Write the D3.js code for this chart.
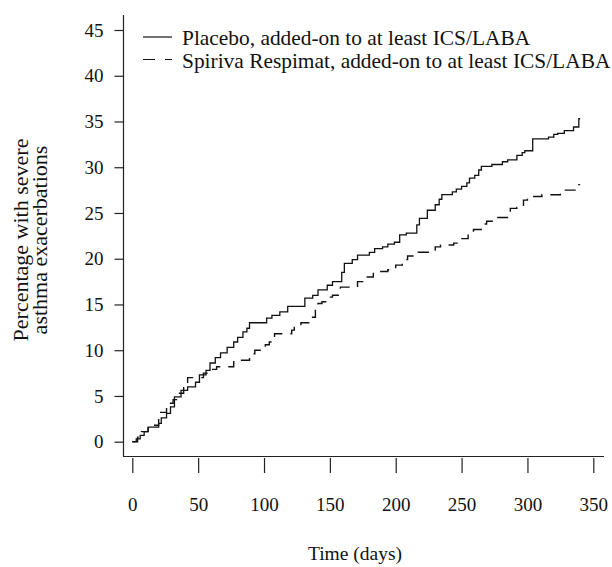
<!DOCTYPE html>
<html>
<head>
<meta charset="utf-8">
<script src="https://cdn.jsdelivr.net/npm/d3@7"></script>
<style>
  body { margin: 0; background: #fff; }
</style>
</head>
<body>
<div id="wrapper"></div>
<script>
// Kaplan-Meier style step curves
const placeboDays = [0, 3, 6, 9, 12, 20, 22, 26, 29, 32, 37, 42, 48, 51, 56, 59, 63, 67, 72, 77,
  80, 84, 87, 89, 102, 106, 112, 118, 131, 137, 141, 148, 152, 159, 161, 167, 171, 180, 184, 190,
  194, 199, 203, 208, 216, 218, 224, 230, 233, 235, 243, 246, 250, 254, 256, 260, 263, 265, 273, 281,
  285, 292, 296, 298, 304, 316, 320, 323, 328, 335, 339, 340]
const placeboPct = [0, 0.3, 0.7, 1.1, 1.6, 2.0, 2.6, 3.1, 3.8, 4.9, 5.6, 6.0, 6.5, 7.3, 7.8, 8.6, 9.2, 9.7, 10.3, 10.9,
  11.4, 12.0, 12.4, 13.0, 13.5, 13.8, 14.2, 14.8, 15.7, 16.0, 16.6, 17.1, 17.5, 18.5, 19.5, 19.9, 20.4, 20.7, 21.1, 21.3,
  21.6, 21.8, 22.6, 22.8, 23.7, 24.4, 25.3, 25.9, 26.5, 27.0, 27.3, 27.6, 27.9, 28.3, 28.8, 29.1, 29.7, 30.1, 30.3, 30.6,
  30.8, 31.3, 31.6, 31.8, 33.1, 33.3, 33.6, 33.7, 34.0, 34.4, 35.3, 35.3]

const spirivaDays = [0, 4, 7, 12, 17, 20, 26, 31, 35, 39, 42, 54, 59, 64, 77, 89, 93, 101, 104, 108,
  121, 123, 128, 134, 139, 141, 144, 148, 152, 158, 171, 175, 183, 187, 194, 200, 205, 209, 217, 230,
  234, 244, 248, 255, 259, 265, 269, 276, 287, 292, 297, 300, 311, 325, 337, 340]
const spirivaPct = [0, 0.5, 1.1, 1.6, 1.8, 3.2, 4.2, 4.6, 5.3, 6.2, 7.0, 7.5, 7.9, 8.2, 8.9, 9.6, 10.0, 10.6, 10.9, 11.8,
  12.2, 12.6, 13.0, 13.6, 14.7, 15.1, 15.3, 15.8, 16.0, 16.9, 17.5, 18.0, 18.5, 18.6, 18.8, 19.3, 19.9, 20.3, 20.7, 21.3,
  21.5, 21.7, 22.2, 22.7, 23.2, 23.8, 24.1, 24.5, 25.5, 25.6, 26.4, 26.8, 27.0, 27.5, 28.1, 28.1]

const xTicks = [0, 50, 100, 150, 200, 250, 300, 350]
const yTicks = [0, 5, 10, 15, 20, 25, 30, 35, 40, 45]
const legendLabels = [
  "Placebo, added-on to at least ICS/LABA",
  "Spiriva Respimat, added-on to at least ICS/LABA"
]

const font = "'Liberation Serif', 'Times New Roman', serif"

const width = 612
const height = 567

const svg = d3.select("#wrapper")
  .append("svg")
  .attr("width", width)
  .attr("height", height)
  .style("font-family", font)

const xScale = d3.scaleLinear()
  .domain([0, 350])
  .range([132.3, 593.3])

const yScale = d3.scaleLinear()
  .domain([0, 45])
  .range([441.7, 30])

// axis frame (L shape)
svg.append("line")
  .attr("x1", 123.5).attr("x2", 123.5)
  .attr("y1", 15).attr("y2", 456.5)
  .attr("stroke", "#222").attr("stroke-width", 1.2)
svg.append("line")
  .attr("x1", 123).attr("x2", 604)
  .attr("y1", 456.5).attr("y2", 456.5)
  .attr("stroke", "#222").attr("stroke-width", 1.2)

const yAxis = svg.append("g")
  .attr("transform", "translate(123.5,0)")
  .call(d3.axisLeft(yScale).tickValues(yTicks).tickSize(9).tickPadding(11))
yAxis.select(".domain").remove()
yAxis.selectAll(".tick line").attr("stroke", "#222").attr("stroke-width", 1.2)
yAxis.selectAll(".tick text")
  .style("font-family", font)
  .style("font-size", "19px")
  .attr("fill", "#111")

const xAxis = svg.append("g")
  .attr("transform", "translate(0,458)")
  .call(d3.axisBottom(xScale).tickValues(xTicks).tickSize(15).tickPadding(25))
xAxis.select(".domain").remove()
xAxis.selectAll(".tick line").attr("stroke", "#222").attr("stroke-width", 1.2)
xAxis.selectAll(".tick text")
  .style("font-family", font)
  .style("font-size", "19px")
  .attr("fill", "#111")

svg.append("text")
  .attr("x", 355)
  .attr("y", 560)
  .attr("text-anchor", "middle")
  .style("font-size", "19.5px")
  .attr("fill", "#111")
  .text("Time (days)")

const yTitle = svg.append("text")
  .attr("transform", "translate(0,240) rotate(-90)")
  .attr("text-anchor", "middle")
  .style("font-size", "22px")
  .attr("fill", "#111")
yTitle.append("tspan").attr("x", 0).attr("y", 28).text("Percentage with severe")
yTitle.append("tspan").attr("x", 0).attr("y", 47).text("asthma exacerbations")

// curves
const line = d3.line()
  .x(d => xScale(d[0]))
  .y(d => yScale(d[1]))
  .curve(d3.curveStepAfter)

const placebo = placeboDays.map((d, i) => [d, placeboPct[i]])
const spiriva = spirivaDays.map((d, i) => [d, spirivaPct[i]])

svg.append("path")
  .attr("d", line(spiriva))
  .attr("fill", "none")
  .attr("stroke", "#111")
  .attr("stroke-width", 1.4)
  .attr("stroke-dasharray", "11,8")

svg.append("path")
  .attr("d", line(placebo))
  .attr("fill", "none")
  .attr("stroke", "#111")
  .attr("stroke-width", 1.3)

// legend
const legend = svg.append("g")
legendLabels.forEach((label, i) => {
  const y = 37 + i * 22.5
  legend.append("line")
    .attr("x1", 143).attr("x2", 172)
    .attr("y1", y).attr("y2", y)
    .attr("stroke", "#111").attr("stroke-width", 1.2)
    .attr("stroke-dasharray", i === 1 ? "12,10" : null)
  legend.append("text")
    .attr("x", 182)
    .attr("y", y + 8)
    .style("font-size", "21.4px")
    .attr("fill", "#111")
    .text(label)
})
</script>
</body>
</html>
